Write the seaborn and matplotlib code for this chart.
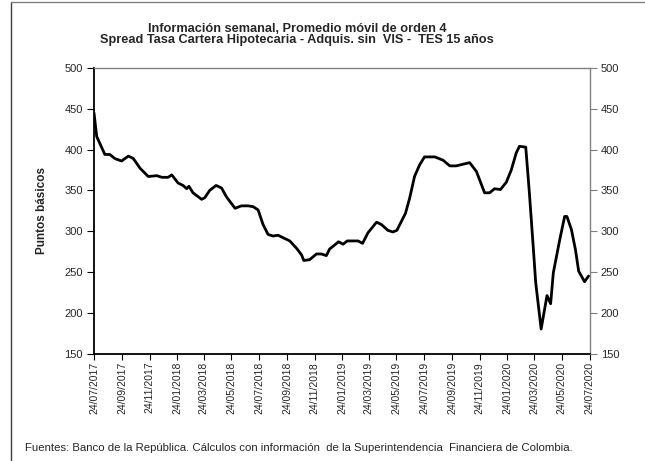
import matplotlib
matplotlib.use("Agg")
import matplotlib.pyplot as plt
from matplotlib.lines import Line2D
import seaborn as sns
import pandas as pd

sns.set_style("white")
plt.rcParams['font.family'] = ['Liberation Sans', 'DejaVu Sans']

dates = [
    "2017-07-24", "2017-07-30", "2017-08-17", "2017-08-28", "2017-09-08", "2017-09-23",
    "2017-10-08", "2017-10-19", "2017-11-03", "2017-11-21", "2017-12-10", "2017-12-21",
    "2018-01-04", "2018-01-12", "2018-01-26", "2018-02-06", "2018-02-14", "2018-02-19",
    "2018-02-28", "2018-03-19", "2018-03-26", "2018-04-06", "2018-04-20", "2018-05-02",
    "2018-05-13", "2018-06-01", "2018-06-15", "2018-06-30", "2018-07-11", "2018-07-22",
    "2018-08-02", "2018-08-13", "2018-08-24", "2018-09-04", "2018-09-15", "2018-09-30",
    "2018-10-15", "2018-10-26", "2018-10-31", "2018-11-13", "2018-11-28", "2018-12-09",
    "2018-12-20", "2018-12-27", "2019-01-05", "2019-01-16", "2019-01-26", "2019-02-04",
    "2019-02-17", "2019-02-28", "2019-03-10", "2019-03-22", "2019-04-10", "2019-04-21",
    "2019-05-05", "2019-05-16", "2019-05-25", "2019-06-13", "2019-06-22", "2019-07-03",
    "2019-07-14", "2019-07-25", "2019-08-17", "2019-09-04", "2019-09-19", "2019-10-03",
    "2019-10-18", "2019-11-02", "2019-11-17", "2019-11-28", "2019-12-05", "2019-12-16",
    "2019-12-27", "2020-01-09", "2020-01-22", "2020-02-02", "2020-02-13", "2020-02-20",
    "2020-03-05", "2020-03-13", "2020-03-21", "2020-03-27", "2020-04-08", "2020-04-21",
    "2020-04-29", "2020-05-05", "2020-05-19", "2020-05-30", "2020-06-04", "2020-06-14",
    "2020-06-23", "2020-06-30", "2020-07-13", "2020-07-22",
]
spread = [
    445, 416, 394, 394, 389, 386,
    392, 389, 377, 367, 368, 366,
    366, 369, 359, 356, 352, 355,
    347, 339, 341, 350, 356, 353,
    342, 328, 331, 331, 330, 326,
    308, 296, 294, 295, 292, 288,
    279, 271, 264, 265, 272, 272,
    270, 278, 282, 287, 284, 288,
    288, 288, 285, 298, 311, 308,
    301, 299, 301, 322, 340, 367,
    381, 391, 391, 387, 380, 380,
    382, 384, 373, 357, 347, 347,
    352, 351, 360, 375, 396, 404,
    403, 347, 285, 237, 180, 221,
    211, 249, 289, 318, 318, 302,
    277, 251, 238, 245,
]

x_tick_labels = [
    "24/07/2017", "24/09/2017", "24/11/2017", "24/01/2018", "24/03/2018", "24/05/2018",
    "24/07/2018", "24/09/2018", "24/11/2018", "24/01/2019", "24/03/2019", "24/05/2019",
    "24/07/2019", "24/09/2019", "24/11/2019", "24/01/2020", "24/03/2020", "24/05/2020",
    "24/07/2020",
]
y_ticks = [150, 200, 250, 300, 350, 400, 450, 500]
title_lines = ["Información semanal, Promedio móvil de orden 4",
               "Spread Tasa Cartera Hipotecaria - Adquis. sin  VIS -  TES 15 años"]
y_label = "Puntos básicos"
footer = "Fuentes: Banco de la República. Cálculos con información  de la Superintendencia  Financiera de Colombia."

df = pd.DataFrame({"fecha": pd.to_datetime(dates), "spread": spread})

fig = plt.figure(figsize=(6.45, 4.61), dpi=100)
ax = fig.add_axes([94 / 645, 1 - 353.5 / 461, (589.5 - 94) / 645, (353.5 - 68) / 461])

sns.lineplot(data=df, x="fecha", y="spread", ax=ax, color="black", linewidth=2.0)

ax.set_xlim(pd.Timestamp("2017-07-24"), pd.Timestamp("2020-07-24"))
ax.set_ylim(150, 500)
ax.set_yticks(y_ticks)
xt = pd.to_datetime(x_tick_labels, format="%d/%m/%Y")
ax.set_xticks(xt)
ax.set_xticklabels(x_tick_labels, rotation=90)
ax.tick_params(axis="x", labelsize=7.5, length=4, width=0.8, color="black", pad=2, direction="out", bottom=True)
ax.tick_params(axis="y", labelsize=8, length=5, width=0.8, color="black", pad=3, direction="out", left=True)
ax.set_xlabel("")
ax.set_ylabel(y_label, fontsize=8.5, fontweight="bold", labelpad=12)

for s in ["left", "bottom"]:
    ax.spines[s].set_color("black")
    ax.spines[s].set_linewidth(1.3)
for s in ["top", "right"]:
    ax.spines[s].set_color("#808080")
    ax.spines[s].set_linewidth(1.0)

ax2 = ax.twinx()
ax2.set_ylim(150, 500)
ax2.set_yticks(y_ticks)
ax2.tick_params(axis="y", labelsize=8, length=5, width=0.8, color="#808080", pad=3, direction="out", right=True)
for s in ax2.spines.values():
    s.set_visible(False)

cx = 297 / 645
fig.text(cx, 1 - 29.5 / 461, title_lines[0], ha="center", va="center",
         fontsize=9.2, fontweight="bold")
fig.text(cx, 1 - 40.5 / 461, title_lines[1], ha="center", va="center",
         fontsize=9.2, fontweight="bold")
fig.text(25 / 645, 1 - 448 / 461, footer, ha="left", va="center", fontsize=8.2)

fig.add_artist(Line2D([11 / 645, 11 / 645], [0, 1 - 2 / 461], transform=fig.transFigure,
                      color="#404040", linewidth=1.0))
fig.add_artist(Line2D([11 / 645, 1], [1 - 2 / 461, 1 - 2 / 461], transform=fig.transFigure,
                      color="#808080", linewidth=1.0))

fig.savefig("out.png", dpi=100)
